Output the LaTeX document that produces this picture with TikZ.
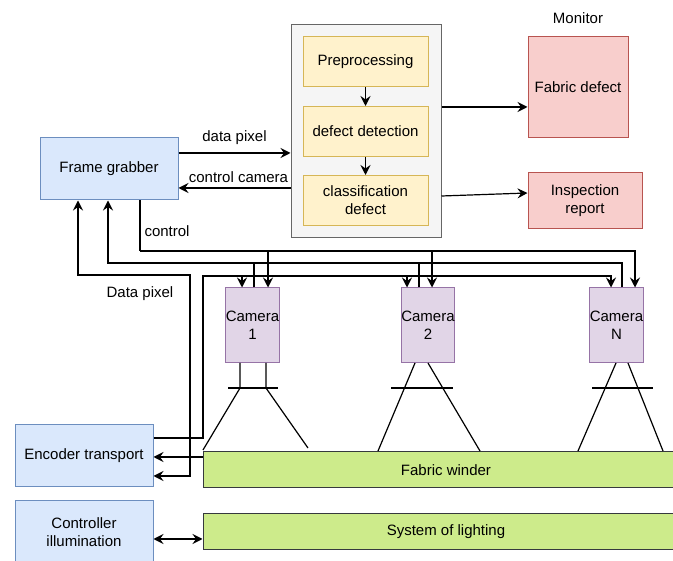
\documentclass[tikz,border=0pt]{standalone}
\usepackage{fontspec}
\setmainfont{Liberation Sans}
\usetikzlibrary{arrows.meta,positioning,calc}
\definecolor{bluefill}{HTML}{DAE8FC}
\definecolor{bluedraw}{HTML}{6C8EBF}
\definecolor{yelfill}{HTML}{FFF2CC}
\definecolor{yeldraw}{HTML}{D6B656}
\definecolor{redfill}{HTML}{F8CECC}
\definecolor{reddraw}{HTML}{B85450}
\definecolor{purfill}{HTML}{E1D5E7}
\definecolor{purdraw}{HTML}{9673A6}
\definecolor{grnfill}{HTML}{CDEB8B}
\definecolor{grndraw}{HTML}{36393D}
\definecolor{grayfill}{HTML}{F5F5F5}
\definecolor{graydraw}{HTML}{666666}
\newcommand{\dfont}{\fontsize{15}{18}\selectfont}
\tikzset{
  blk/.style={draw, line width=1pt, align=center, font=\dfont, inner sep=0pt},
  bluebox/.style={blk, fill=bluefill, draw=bluedraw, minimum width=138pt, minimum height=62pt},
  yelbox/.style={blk, fill=yelfill, draw=yeldraw, minimum width=125pt, minimum height=50pt},
  redbox/.style={blk, fill=redfill, draw=reddraw},
  cambox/.style={blk, fill=purfill, draw=purdraw, minimum width=51pt, minimum height=75pt},
  grnbox/.style={blk, fill=grnfill, draw=grndraw, minimum width=486pt, minimum height=36pt},
  procbox/.style={blk, fill=grayfill, draw=graydraw, minimum width=150pt, minimum height=213pt},
  tip/.tip={Stealth[length=10pt,width=10pt,inset=3.5pt]},
  arr/.style={-tip, line width=1.2pt},
  dblarr/.style={tip-tip, line width=1.2pt},
  wire/.style={line width=1.2pt},
  lbl/.style={font=\dfont},
}

\begin{document}
\begin{tikzpicture}[x=1pt, y=-1pt]
    \clip (0,0) rectangle (673,561);
    % --- boxes
    \node[bluebox] (fg) at (109,169) {Frame grabber};
    \node[bluebox] (enc) at (84,456) {Encoder transport};
    \node[bluebox] (ctl) at (84,532) {Controller\\illumination};
    \node[procbox] (proc) at (366,131.5) {};
    \node[yelbox] (pre) at (365.5,62) {Preprocessing};
    \node[yelbox] (det) at (365.5,131.5) {defect detection};
    \node[yelbox] (cls) at (365.5,200.5) {classification\\defect};
    \node[redbox, minimum width=100pt, minimum height=101pt] (fd) at (578,87.5) {Fabric defect};
    \node[redbox, minimum width=114pt, minimum height=56pt] (rep) at (585,201) {Inspection\\report};
    \node[lbl] (mon) at (578,18) {Monitor};
    \foreach \n/\x/\t in {cam1/252.5/1, cam2/428/2, camN/616.5/N}{
      \node[cambox] (\n) at (\x,325.5) {Camera\\\t};
    }
    \node[grnbox] (winder) at (446,470) {Fabric winder};
    \node[grnbox] (light) at (446,532) {System of lighting};
    % --- processing chain
    \draw[arr] (pre) -- (det);
    \draw[arr] (det) -- (cls);
    \draw[arr] ([yshift=24.5pt]proc.east) -- ([yshift=-19.5pt]fd.west);
    \draw[arr] ([yshift=-64.5pt]proc.east) -- ([yshift=8pt]rep.west);
    % --- frame grabber <-> processing
    \draw[arr] ([yshift=16pt]fg.east) -- node[lbl, above=4pt] {data pixel} ([yshift=16pt]fg.east -| proc.west);
    \draw[arr] ([yshift=-19pt]fg.east -| proc.west) -- node[lbl, above=1pt, xshift=4pt] {control camera} ([yshift=-19pt]fg.east);
    % --- control to cameras
    \coordinate (ctrl) at (140,251);
    \draw[wire] ([xshift=31pt]fg.south) |- (ctrl);
    \node[lbl, anchor=west] (ctrllbl) at (141,231) {control};
    \draw[arr] (ctrl) -| ([xshift=18.5pt]camN.north);
    \draw[arr] ([xshift=15.5pt]cam1.north |- ctrl) -- ([xshift=15.5pt]cam1.north);
    \draw[arr] ([xshift=4pt]cam2.north |- ctrl) -- ([xshift=4pt]cam2.north);
    % --- camera data to frame grabber
    \coordinate (dat) at (108,263);
    \draw[arr] ([xshift=5.5pt]camN.north) |- (dat) -- (dat |- fg.south);
    \draw[wire] ([xshift=1.5pt]cam1.north) -- ([xshift=1.5pt]cam1.north |- dat);
    \draw[wire] ([xshift=-9pt]cam2.north) -- ([xshift=-9pt]cam2.north |- dat);
    % --- encoder trigger to cameras
    \coordinate (trg) at (203,276);
    \draw[arr] ([yshift=18pt]enc.east) -| (trg) -| ([xshift=-5.5pt]camN.north);
    \draw[arr] ([xshift=-10.5pt]cam1.north |- trg) -- ([xshift=-10.5pt]cam1.north);
    \draw[arr] ([xshift=-21pt]cam2.north |- trg) -- ([xshift=-21pt]cam2.north);
    % --- data pixel loop
    \coordinate (dpx) at (190,275);
    \draw[dblarr] ([yshift=-20pt]enc.east) -| (dpx) -| ([xshift=-31pt]fg.south);
    \node[lbl] (dpxlbl) at (140,294) {Data pixel};
    % --- winder and lighting
    \draw[arr] ([yshift=13pt]winder.west) -- ([yshift=13pt]winder.west -| enc.east);
    \draw[dblarr] ([yshift=-7pt]ctl.east) -- ([yshift=-7pt]ctl.east -| light.west);
    % --- lenses
    \draw[wire] (240,363) -- (240,388) -- (203,450);
    \draw[wire] (266,363) -- (266,388) -- (308,448);
    \draw[wire] (228,388) -- (278,388);
    \draw[wire] (415,363) -- (378,451);
    \draw[wire] (428,363) -- (480,451);
    \draw[wire] (391,388) -- (453,388);
    \draw[wire] (616,363) -- (578,451);
    \draw[wire] (628,363) -- (663,451);
    \draw[wire] (592,388) -- (653,388);
\end{tikzpicture}
\end{document}
